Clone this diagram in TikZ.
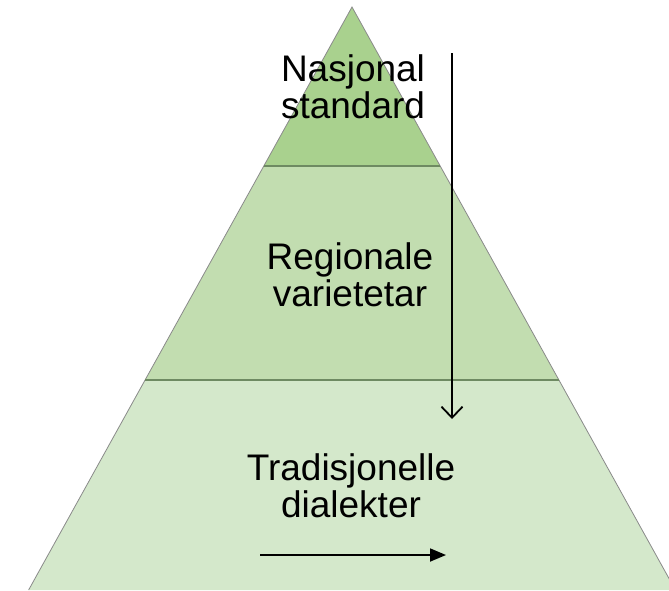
\documentclass[tikz,border=0pt]{standalone}
\usepackage{fontspec}
\setmainfont{Liberation Sans}
\usetikzlibrary{arrows.meta}
\definecolor{topg}{HTML}{A9D18E}
\definecolor{midg}{HTML}{C2DDB0}
\definecolor{botg}{HTML}{D4E8CB}
\definecolor{edgeg}{HTML}{8A8A8A}
\definecolor{divg}{HTML}{6E8A62}
\tikzset{
  lvl/.style={align=center, font=\fontsize{37}{37.5}\selectfont, text=black, inner sep=0pt},
  tier/.style={draw=edgeg, line width=0.8pt},
  divider/.style={draw=divg, line width=1.2pt},
  flow/.style={line width=1.8pt, black}
}
\begin{document}
\begin{tikzpicture}[x=1pt,y=-1pt]
\useasboundingbox (0,0) rectangle (669,590);
\begin{scope}
\clip (0,0) rectangle (669,590);
% tiers
\fill[topg] (352,7) -- (440.2,166) -- (263.8,166) -- cycle;
\fill[midg] (263.8,166) -- (440.2,166) -- (559,380) -- (145,380) -- cycle;
\fill[botg] (145,380) -- (559,380) -- (675.4,590) -- (28.6,590) -- cycle;
\draw[tier] (28.6,590) -- (352,7) -- (675.4,590);
\draw[divider] (263.8,166) -- (440.2,166);
\draw[divider] (145,380) -- (559,380);
\end{scope}
% labels
\node[lvl] (nat) at (353,87) {Nasjonal\\standard};
\node[lvl] (reg) at (350,275) {Regionale\\varietetar};
\node[lvl] (tra) at (351,486) {Tradisjonelle\\dialekter};
% arrows
\coordinate (vs) at (452,53);
\coordinate (ve) at (452,419);
\coordinate (hs) at (260,555);
\coordinate (he) at (446,555);
\draw[flow, -{Straight Barb[length=11pt,width=21pt,line width=1.8pt]}] (vs) -- (ve);
\draw[flow, -{Triangle[length=16pt,width=13pt]}] (hs) -- (he);
\end{tikzpicture}
\end{document}
